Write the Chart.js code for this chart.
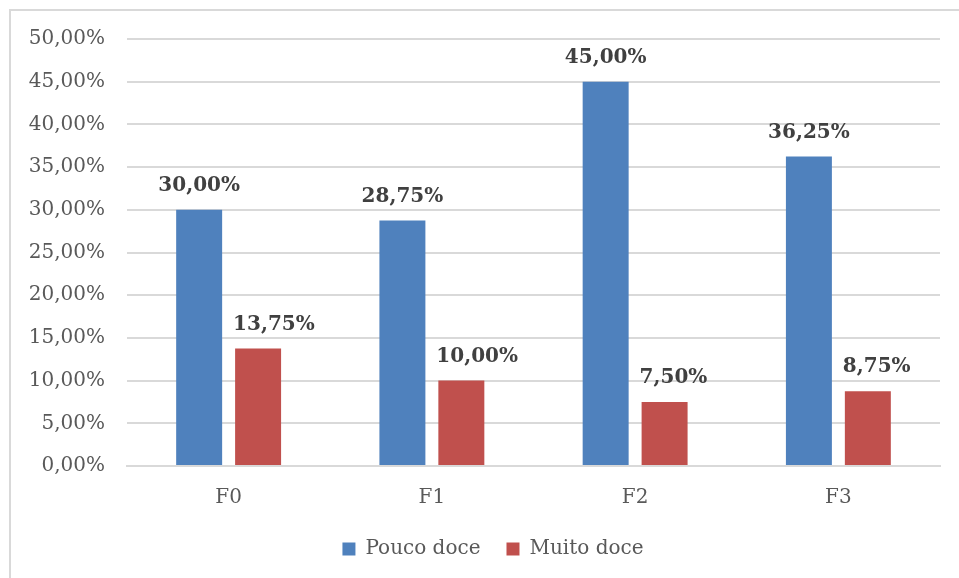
<!DOCTYPE html>
<html>
<head>
<meta charset="utf-8">
<script src="https://cdn.jsdelivr.net/npm/chart.js@4"></script>
<style>
  html, body { margin: 0; padding: 0; background: #fff; overflow: hidden; }
  #wrap { width: 959px; height: 578px; position: relative; }
</style>
</head>
<body>
<div id="wrap"><canvas id="chart"></canvas></div>
<script>
// data
const categories = ['F0', 'F1', 'F2', 'F3'];
const poucoDoce = [30.00, 28.75, 45.00, 36.25];
const muitoDoce = [13.75, 10.00, 7.50, 8.75];
const yTicks = [0, 5, 10, 15, 20, 25, 30, 35, 40, 45, 50];

const FONT = "'DejaVu Serif', serif";

function pct(v) {
    return v.toFixed(2).replace('.', ',') + '%';
}

// white background + light frame around the chart
const framePlugin = {
    id: 'frame',
    afterLayout(chart) {
        // legend sits a bit right of centre in the original
        chart.legend.left += 18;
        chart.legend.right += 18;
    },
    beforeDraw(chart) {
        const c = chart.ctx;
        c.save();
        c.fillStyle = '#fff';
        c.fillRect(0, 0, chart.width, chart.height);
        c.strokeStyle = '#d9d9d9';
        c.lineWidth = 2;
        c.strokeRect(10, 10, chart.width + 20, chart.height + 20);
        c.restore();
    }
};

// value labels above each bar
const valueLabels = {
    id: 'valueLabels',
    afterDatasetsDraw(chart) {
        const c = chart.ctx;
        c.save();
        c.font = 'bold 20px ' + FONT;
        c.fillStyle = '#404040';
        c.textBaseline = 'middle';
        chart.data.datasets.forEach((ds, i) => {
            chart.getDatasetMeta(i).data.forEach((bar, j) => {
                const txt = pct(ds.data[j]);
                if (i === 0) {
                    c.textAlign = 'center';
                    c.fillText(txt, bar.x, bar.y - 24);
                } else {
                    c.textAlign = 'left';
                    c.fillText(txt, bar.x - bar.width / 2 - 2, bar.y - 24);
                }
            });
        });
        c.restore();
    }
};

const ctx = document.getElementById('chart').getContext('2d');
new Chart(ctx, {
    type: 'bar',
    data: {
        labels: categories,
        datasets: [
            {
                label: 'Pouco doce',
                data: poucoDoce,
                backgroundColor: '#4f81bd'
            },
            {
                label: 'Muito doce',
                data: muitoDoce,
                backgroundColor: '#c0504d'
            }
        ]
    },
    options: {
        responsive: true,
        maintainAspectRatio: false,
        animation: false,
        categoryPercentage: 0.58,
        barPercentage: 0.78,
        layout: {
            padding: { left: 10, right: 19, top: 39, bottom: 9 }
        },
        scales: {
            x: {
                grid: { display: false, drawTicks: false },
                border: { color: '#d9d9d9', width: 2 },
                ticks: {
                    padding: 20,
                    color: '#595959',
                    font: { family: FONT, size: 20 }
                },
                afterFit(scale) { scale.height = 47; }
            },
            y: {
                min: 0,
                max: 50,
                afterBuildTicks(scale) {
                    scale.ticks = yTicks.map(v => ({ value: v }));
                },
                grid: { color: '#d9d9d9', lineWidth: 2, drawTicks: false },
                border: { display: false },
                ticks: {
                    padding: 22,
                    color: '#595959',
                    font: { family: FONT, size: 20 },
                    callback: v => pct(v)
                },
                afterFit(scale) { scale.width = 117; }
            }
        },
        plugins: {
            legend: {
                position: 'bottom',
                labels: {
                    color: '#595959',
                    font: { family: FONT, size: 20 },
                    boxWidth: 13,
                    boxHeight: 13,
                    padding: 26
                }
            },
            tooltip: { enabled: false }
        }
    },
    plugins: [framePlugin, valueLabels]
});
</script>
</body>
</html>
